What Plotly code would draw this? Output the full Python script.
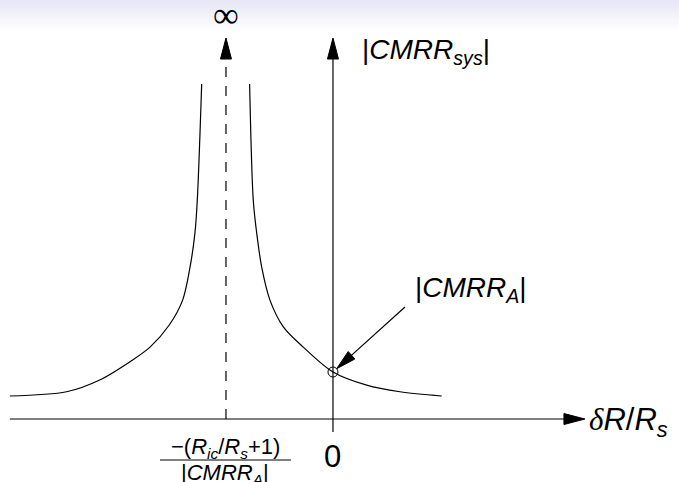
import plotly.graph_objects as go
import numpy as np

# ---- data ----
# x: deltaR/Rs in units of |(Ric/Rs+1)/CMRR_A| ; y: |CMRR_sys| in units of |CMRR_A|
left_x = [-3.02, -2.49, -2.18, -1.89, -1.71, -1.53, -1.405, -1.336, -1.290, -1.268, -1.227]
left_y = [0.49, 0.58, 0.83, 1.23, 1.53, 2.00, 2.53, 3.23, 3.96, 4.66, 7.13]
right_x = [-0.779, -0.745, -0.713, -0.666, -0.589, -0.464, -0.278, 0.0, 0.315, 0.626, 1.016]
right_y = [7.13, 4.66, 3.96, 3.23, 2.53, 1.96, 1.53, 1.0, 0.72, 0.58, 0.49]
asym_x = -1.0
point_x, point_y = [0.0], [1.0]

XMIN, XMAX = -3.112, 3.234
YMIN, YMAX = -1.340, 8.915
W, H = 679, 482
pxx = W / (XMAX - XMIN)
pxy = H / (YMAX - YMIN)

fig = go.Figure()

# header gradient
n = 16
for i in range(n):
    t = i / (n - 1)
    r = int(231 + (255 - 231) * t)
    b = int(246 + (255 - 246) * t)
    fig.add_shape(type="rect", xref="paper", yref="paper",
                  x0=0, x1=1, y0=1 - (i * 2) / H, y1=1 - (i * 2 + 2) / H,
                  fillcolor=f"rgb({r},{r},{b})", line_width=0, layer="below")

line = dict(color="black", width=1.2)

# curves
for xs, ys in ((left_x, left_y), (right_x, right_y)):
    fig.add_trace(go.Scatter(x=xs, y=ys, mode="lines",
                             line=dict(color="black", width=1.2, shape="spline", smoothing=0.9),
                             hoverinfo="skip"))

# axes lines
x_start, x_tip = -3.02, 2.355
y_bottom, y_tip = -0.277, 8.106
fig.add_shape(type="line", x0=x_start, x1=x_tip - 18 / pxx, y0=0, y1=0, line=line)
fig.add_shape(type="line", x0=0, x1=0, y0=y_bottom, y1=y_tip - 18 / pxy, line=line)
fig.add_shape(type="line", x0=asym_x, x1=asym_x, y0=0, y1=y_tip - 18 / pxy,
              line=dict(color="black", width=1.2, dash="10px,9px"))


def arrowhead(tx, ty, dx_px, dy_px, length=21, half=5.5):
    L = np.hypot(dx_px, dy_px)
    ux, uy = dx_px / L, dy_px / L
    nx, ny = -uy, ux
    bx, by = -ux * length, -uy * length
    pts = [(0, 0), (bx + nx * half, by + ny * half), (bx - nx * half, by - ny * half), (0, 0)]
    xs = [tx + p[0] / pxx for p in pts]
    ys = [ty + p[1] / pxy for p in pts]
    fig.add_trace(go.Scatter(x=xs, y=ys, mode="lines", fill="toself", fillcolor="black",
                             line=dict(color="black", width=1), hoverinfo="skip"))


arrowhead(x_tip, 0, 1, 0)
arrowhead(0, y_tip, 0, 1)
arrowhead(asym_x, y_tip, 0, 1)

# annotation arrow to the point
ax0, ay0 = 0.673, 2.383
dxp = (point_x[0] - ax0) * pxx
dyp = (point_y[0] - ay0) * pxy
Lp = np.hypot(dxp, dyp)
stand = 5
tipx = point_x[0] - dxp / Lp * stand / pxx
tipy = point_y[0] - dyp / Lp * stand / pxy
fig.add_shape(type="line", x0=ax0, y0=ay0, x1=tipx - dxp / Lp * 15 / pxx, y1=tipy - dyp / Lp * 15 / pxy, line=line)
arrowhead(tipx, tipy, dxp, dyp, length=20, half=5)

fig.add_trace(go.Scatter(x=point_x, y=point_y, mode="markers",
                         marker=dict(symbol="circle-open", size=10, color="black", line=dict(width=1)),
                         hoverinfo="skip"))

sans = "Liberation Sans, Arial, sans-serif"
serif = "Liberation Serif, serif"
anns = [
    dict(x=asym_x, y=8.60, text="∞", font=dict(family=serif, size=36), xanchor="center", yanchor="middle"),
    dict(x=0.25, y=7.81, text="|<i>CMRR</i><sub><i>sys</i></sub>|", font=dict(family=sans, size=28), xanchor="left", yanchor="middle"),
    dict(x=0.745, y=2.75, text="|<i>CMRR</i><sub><i>A</i></sub>|", font=dict(family=sans, size=28), xanchor="left", yanchor="middle"),
    dict(x=2.374, y=-0.07, text="<span style='font-family:Liberation Serif'><i>δ</i></span><i>R</i>/<i>R</i><sub><i>s</i></sub>", font=dict(family=sans, size=31), xanchor="left", yanchor="middle"),
    dict(x=0, y=-0.80, text="0", font=dict(family=sans, size=31), xanchor="center", yanchor="middle"),
    dict(x=-1.005, y=-0.62, text="−(<i>R</i><sub><i>ic</i></sub>/<i>R</i><sub><i>s</i></sub>+1)", font=dict(family=sans, size=22), xanchor="center", yanchor="middle"),
    dict(x=-1.01, y=-1.17, text="|<i>CMRR</i><sub><i>A</i></sub>|", font=dict(family=sans, size=22), xanchor="center", yanchor="middle"),
]
for a in anns:
    a["font"]["color"] = "black"
    fig.add_annotation(showarrow=False, **a)

fig.add_shape(type="line", x0=(160 - 333) / pxx, x1=(291 - 333) / pxx, y0=(419 - 460) / pxy, y1=(419 - 460) / pxy,
              line=dict(color="black", width=1.2))

fig.update_layout(width=W, height=H, margin=dict(l=0, r=0, t=0, b=0),
                  paper_bgcolor="white", plot_bgcolor="rgba(0,0,0,0)", showlegend=False,
                  hovermode=False,
                  xaxis=dict(range=[XMIN, XMAX], visible=False, fixedrange=True),
                  yaxis=dict(range=[YMIN, YMAX], visible=False, fixedrange=True))

fig.write_html("out.html", config={"displayModeBar": False, "staticPlot": True},
               post_script="document.body.style.margin='0';document.body.style.overflow='hidden';")
